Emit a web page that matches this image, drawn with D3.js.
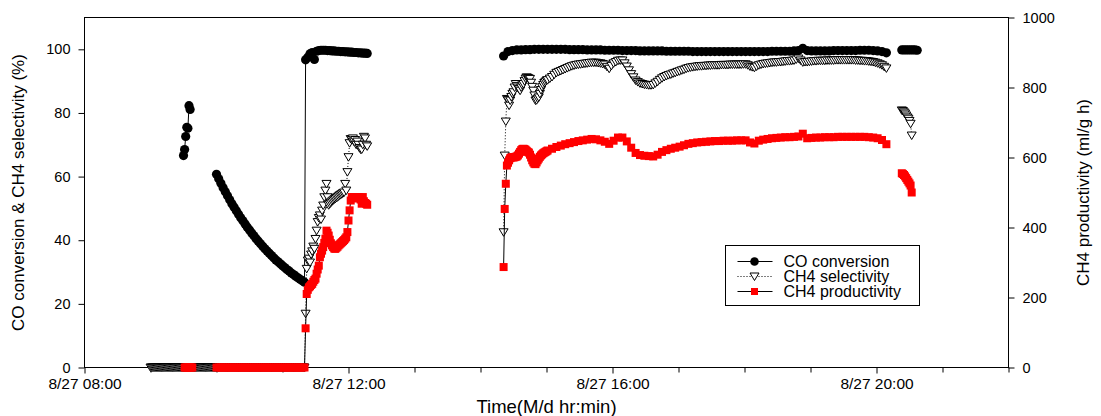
<!DOCTYPE html>
<html><head><meta charset="utf-8">
<script src="https://cdn.jsdelivr.net/npm/d3@7"></script>
<style>
body{margin:0;background:#fff;}
text{font-family:"Liberation Sans", Arial, sans-serif;fill:#000;}
</style></head><body>
<svg id="chart" width="1101" height="416"></svg>
<script>
// ---------- DATA ----------
// each series: list of connected runs; each run: list of blocks [start "HH:MM", step (min), values]
const xTickLabels = ["8/27 08:00", "8/27 12:00", "8/27 16:00", "8/27 20:00"];
const xMajorHours = [8, 12, 16, 20];
const xMinorHours = [9, 10, 11, 13, 14, 15, 17, 18, 19, 21, 22];
const yLeftTicks = [0, 20, 40, 60, 80, 100];
const yRightTicks = [0, 200, 400, 600, 800, 1000];

const coConversion = [
  [["09:30", 1, [66.6, 68.5, 72.6, 75.5, 75.2, 82.3, 81.1]]],
  [["10:00", 2, [60.7, 59.3, 57.9, 56.5, 55.2, 54.0, 52.7, 51.5, 50.4, 49.3, 48.2, 47.1, 46.1, 45.1, 44.1, 43.2, 42.3, 41.4, 40.5, 39.7,
                 38.9, 38.1, 37.3, 36.6, 35.9, 35.2, 34.5, 33.8, 33.2, 32.6, 32.0, 31.4, 30.8, 30.3, 29.7, 29.2, 28.7, 28.2, 27.7, 27.3, 26.8]],
   ["11:21", 2, [96.7, 97.5, 98.6, 99.0, 96.8, 99.4, 99.6, 99.7, 99.7, 99.7, 99.6, 99.6, 99.5, 99.5, 99.4, 99.4, 99.3, 99.3, 99.2, 99.2,
                 99.1, 99.1, 99.0, 99.0, 98.9, 98.9, 98.8, 98.8, 98.7]]],
  [["14:21", 4, [97.9, 99.3, 99.6,
                 99.8, 99.8, 99.9, 99.9, 100, 100, 100, 100, 100, 100, 100, 100, 99.9, 99.9, 99.9, 99.9, 99.8, 99.8,
                 99.8, 99.8, 99.7, 99.7, 99.7, 99.7, 99.6, 99.6, 99.6, 99.6, 99.5, 99.5, 99.5, 99.5, 99.5, 99.5, 99.4, 99.4, 99.4, 99.4,
                 99.4, 99.4, 99.3, 99.3, 99.3, 99.3, 99.3, 99.3, 99.3, 99.3, 99.3, 99.3, 99.3, 99.3, 99.3, 99.3, 99.3, 99.3, 99.3, 99.3,
                 99.4, 99.4, 99.4, 99.4, 99.4, 99.5, 99.6,
                 100.3, 99.6,
                 99.5, 99.5, 99.5, 99.5, 99.5, 99.6, 99.6, 99.6, 99.6, 99.6, 99.6, 99.7, 99.7, 99.7, 99.6,
                 99.5, 99.3, 98.9]]],
  [["20:23", 2, [99.8, 99.8, 99.8, 99.8, 99.8, 99.8, 99.8, 99.7]]]
];

const ch4Selectivity = [
  [["09:00", 1, [0, 0, 0, 0, 0, 0, 0, 0, 0, 0, 0, 0, 0, 0, 0, 0, 0, 0, 0, 0, 0, 0, 0, 0, 0, 0, 0, 0, 0, 0,
                 0, 0, 0, 0, 0, 0, 0, 0, 0, 0, 0, 0, 0, 0, 0, 0, 0, 0, 0, 0, 0, 0, 0, 0, 0, 0, 0, 0, 0, 0,
                 0, 0, 0, 0, 0, 0, 0, 0, 0, 0, 0, 0, 0, 0, 0, 0, 0, 0, 0, 0, 0, 0, 0, 0, 0, 0, 0, 0, 0, 0,
                 0, 0, 0, 0, 0, 0, 0, 0, 0, 0, 0, 0, 0, 0, 0, 0, 0, 0, 0, 0, 0, 0, 0, 0, 0, 0, 0, 0, 0, 0,
                 0, 0, 0, 0, 0, 0, 0, 0, 0, 0, 0, 0, 0, 0, 0, 0, 0, 0, 0, 0, 0]],
   ["11:21", 1, [16.9, 31.0, 33.6, 34.2, 33.0, 35.5, 36.5, 38.0, 37.3, 40.4,
                 43.0, 45.7, 47.0, 47.8, 46.5, 49.3, 50.9, 53.5, 55.6, 57.7,
                 53.5, 51.0, 51.4, 51.8, 52.2, 52.5, 52.8, 53.0, 53.3, 53.5,
                 53.8, 54.1, 54.3, 54.5, 54.8, 55.0, 57.7, 55.6, 61.4, 66.1,
                 70.5, 71.8, 71.5, 72.0, 71.0, 71.5, 70.0, 71.0, 70.0, 69.0,
                 68.5, 68.5, 70.0, 72.5, 72.0, 70.0, 69.5]]],
  [["14:21", 1, [42.5, 66.6, 77.3, 84.4, 84.1, 82.3, 83.9, 85.0, 86.0, 86.5, 88.0, 89.1, 88.5, 88.0, 87.5, 87.0, 88.0, 88.7, 89.1, 90.0,
                 90.8, 91.2, 91.0, 90.8, 90.7, 89.5, 88.2, 87.0, 85.5, 83.9, 84.0, 84.5, 84.9, 86.0, 87.2, 88.1, 88.8, 89.4, 89.8, 90.2]],
   ["15:01", 2, [90.3, 90.8, 91.3, 92.0, 92.6, 92.9, 93.2, 93.5, 93.8, 94.1, 94.4, 94.7, 94.9, 95.1, 95.2, 95.3, 95.4, 95.5, 95.6, 95.7,
                 95.8, 95.8, 95.8, 95.7, 95.6, 95.4, 95.2, 94.5, 93.9, 94.8, 95.6, 96.0, 96.4, 96.5, 96.5, 95.6, 94.6, 93.4, 92.2, 91.2,
                 90.2, 89.7, 89.3, 89.1, 88.9, 88.8, 88.7, 88.7, 88.8, 89.3, 89.8, 90.4, 90.9, 91.3, 91.6, 91.9, 92.1, 92.4, 92.6, 92.9,
                 93.1, 93.4, 93.6, 93.9, 94.1, 94.3, 94.4, 94.5, 94.6, 94.7, 94.7, 94.8, 94.8, 94.9, 94.9, 95.0, 95.0, 95.0, 95.0, 95.1,
                 95.1, 95.1, 95.1, 95.2, 95.2, 95.2, 95.2, 95.2, 95.2, 95.3, 95.3, 95.0, 94.6, 94.4, 94.2, 94.6, 95.0, 95.2, 95.4, 95.5,
                 95.6, 95.7, 95.8, 95.9, 95.9, 96.0, 96.0, 96.1, 96.2, 96.3, 96.3, 96.4, 96.5, 96.8, 97.1, 96.5, 95.9, 96.0, 96.0, 96.1,
                 96.2, 96.3, 96.3, 96.4, 96.4, 96.4, 96.4, 96.5, 96.5, 96.5, 96.5, 96.6, 96.6, 96.6, 96.6, 96.6, 96.6, 96.6, 96.6, 96.6,
                 96.5, 96.5, 96.4, 96.4, 96.3, 96.3, 96.2, 96.1, 96.0, 95.8, 95.6, 95.3, 95.0, 94.5, 94.0]]],
  [["20:23", 1, [80.8, 80.6, 80.2, 79.8, 79.2, 78.6, 78.2, 77.5, 76.6, 72.9]]]
];

const ch4Productivity = [
  [["09:31", 1, [0, 0, 0, 0, 0, 0, 0, 0]]],
  [["10:00", 2, [0, 0, 0, 0, 0, 0, 0, 0, 0, 0, 0, 0, 0, 0, 0, 0, 0, 0, 0, 0, 0, 0, 0, 0, 0, 0, 0, 0, 0, 0, 0, 0, 0, 0, 0, 0, 0, 0, 0, 0, 0]],
   ["11:21", 1, [112, 210, 222, 229, 232, 236, 239, 245, 250, 254,
                 268, 280, 291, 315, 325, 334, 344, 356, 368, 391,
                 385, 377, 365, 355, 349, 344, 340, 339, 342, 345,
                 349, 352, 355, 358, 361, 364, 368, 372, 387, 420,
                 449, 477, 487, 485, 487, 483, 487, 484, 487, 486,
                 480, 468, 487, 475, 470, 468, 465]]],
  [["14:21", 1, [287, 453, 525, 577, 585, 592, 598, 600, 601, 600, 601, 602, 603, 606, 611, 616, 621, 624, 625, 624,
                 622, 619, 616, 614, 608, 600, 592, 586, 582, 581, 586, 592, 597, 602, 606, 609, 612, 614, 616, 618]],
   ["15:01", 4, [620, 625, 630, 634, 638, 641, 644, 647, 649, 651, 653, 652, 649, 645, 639, 648, 657, 657, 646, 628,
                 613, 607, 605, 604, 603, 608, 616, 621, 625, 628, 631, 635, 639, 641, 643, 644, 645, 646, 647, 647,
                 648, 648, 648, 649, 649, 649, 643, 640, 648, 651, 653, 655, 656, 657, 658, 658, 659, 660, 668, 655,
                 656, 657, 657, 658, 658, 658, 659, 659, 659, 659, 659, 659, 659, 658, 657, 655, 650, 638]]],
  [["20:23", 1, [555, 553, 550, 546, 541, 536, 531, 526, 520, 500]]]
];

const legendLabels = ["CO conversion", "CH4 selectivity", "CH4 productivity"];
const xTitle = "Time(M/d hr:min)";
const yLeftTitle = "CO conversion & CH4 selectivity (%)";
const yRightTitle = "CH4 productivity (ml/g h)";

// ---------- DRAWING ----------
const svg = d3.select("#chart");
const P = {left: 84.5, right: 1008.5, top: 17.5, bottom: 367.5};
const day = (h, m) => new Date(2000, 7, 27, h, m);
const parseT = s => { const [h, m] = s.split(":").map(Number); return day(h, m); };
const x = d3.scaleTime().domain([day(8, 0), day(22, 0)]).range([P.left, P.right]);
const yL = d3.scaleLinear().domain([0, 110]).range([P.bottom, P.top]);
const yR = d3.scaleLinear().domain([0, 1000]).range([P.bottom, P.top]);

function expand(series) {
  return series.map(run => run.flatMap(([start, step, vals]) => {
    const t0 = parseT(start).getTime();
    return vals.map((v, i) => ({t: new Date(t0 + i * step * 60000), v}));
  }));
}

svg.append("rect").attr("x", P.left).attr("y", P.top)
  .attr("width", P.right - P.left).attr("height", P.bottom - P.top)
  .attr("fill", "none").attr("stroke", "#000").attr("stroke-width", 1);

function styleAxis(size) {
  return g => {
    g.select(".domain").remove();
    g.selectAll(".tick line").attr("stroke", "#000");
    g.selectAll("text").attr("font-size", size).attr("font-family", "Liberation Sans, Arial, sans-serif");
  };
}

svg.append("g").attr("transform", `translate(${P.left},0)`)
  .call(d3.axisLeft(yL).tickValues(yLeftTicks).tickFormat(d3.format("d")).tickSize(6).tickPadding(8)).call(styleAxis(14.5));
svg.append("g").attr("transform", `translate(${P.right},0)`)
  .call(d3.axisRight(yR).tickValues(yRightTicks).tickFormat(d3.format("d")).tickSize(6).tickPadding(8)).call(styleAxis(14.5));
svg.append("g").attr("transform", `translate(0,${P.bottom})`)
  .call(d3.axisBottom(x).tickValues(xMajorHours.map(h => day(h, 0)))
    .tickFormat((d, i) => xTickLabels[i]).tickSize(6).tickPadding(4)).call(styleAxis(15.5));
svg.append("g").attr("transform", `translate(0,${P.bottom})`)
  .call(d3.axisBottom(x).tickValues(xMinorHours.map(h => day(h, 0)))
    .tickFormat("").tickSize(5)).call(styleAxis(15.5));

// titles
svg.append("text").attr("x", (P.left + P.right) / 2).attr("y", 413)
  .attr("text-anchor", "middle").attr("font-size", 18.5).text(xTitle);
svg.append("text").attr("transform", `translate(24,${(P.top + P.bottom) / 2}) rotate(-90)`)
  .attr("text-anchor", "middle").attr("font-size", 17).text(yLeftTitle);
svg.append("text").attr("transform", `translate(1089,${(P.top + P.bottom) / 2}) rotate(-90)`)
  .attr("text-anchor", "middle").attr("font-size", 17).text(yRightTitle);

const plotG = svg.append("g");
const triPath = "M-4.5,-3.5L4.5,-3.5L0,4Z";

const lineL = d3.line().x(d => x(d.t)).y(d => yL(d.v));
const lineR = d3.line().x(d => x(d.t)).y(d => yR(d.v));

// CO conversion
expand(coConversion).forEach(run => {
  plotG.append("path").attr("d", lineL(run)).attr("fill", "none").attr("stroke", "#000").attr("stroke-width", 1);
  plotG.append("g").selectAll("circle").data(run).join("circle")
    .attr("cx", d => x(d.t)).attr("cy", d => yL(d.v)).attr("r", 4.6).attr("fill", "#000");
});
// CH4 selectivity
expand(ch4Selectivity).forEach(run => {
  plotG.append("path").attr("d", lineL(run)).attr("fill", "none").attr("stroke", "#000")
    .attr("stroke-width", 1).attr("stroke-dasharray", "1,2");
  plotG.append("g").selectAll("path").data(run).join("path")
    .attr("d", triPath).attr("transform", d => `translate(${x(d.t)},${yL(d.v)})`)
    .attr("fill", "#fff").attr("stroke", "#000").attr("stroke-width", 1);
});
// CH4 productivity
expand(ch4Productivity).forEach(run => {
  plotG.append("path").attr("d", lineR(run)).attr("fill", "none").attr("stroke", "#000").attr("stroke-width", 1);
  plotG.append("g").selectAll("rect").data(run).join("rect")
    .attr("x", d => x(d.t) - 4).attr("y", d => yR(d.v) - 4).attr("width", 8).attr("height", 8).attr("fill", "#ff0000");
});

// legend
const lg = svg.append("g").attr("transform", "translate(725.5,245.5)");
lg.append("rect").attr("width", 194).attr("height", 60).attr("fill", "#fff").attr("stroke", "#000");
const rows = [16, 31, 46];
legendLabels.forEach((lab, i) => {
  const yy = rows[i];
  const ln = lg.append("line").attr("x1", 12).attr("x2", 47).attr("y1", yy).attr("y2", yy).attr("stroke", "#000");
  if (i === 1) ln.attr("stroke-dasharray", "1,2");
  if (i === 0) lg.append("circle").attr("cx", 29).attr("cy", yy).attr("r", 4.3).attr("fill", "#000");
  if (i === 1) lg.append("path").attr("d", triPath).attr("transform", `translate(29,${yy})`).attr("fill", "#fff").attr("stroke", "#000");
  if (i === 2) lg.append("rect").attr("x", 25.5).attr("y", yy - 3.5).attr("width", 7).attr("height", 7).attr("fill", "#ff0000");
  lg.append("text").attr("x", 58).attr("y", yy + 5.5).attr("font-size", 16).text(lab);
});
</script>
</body></html>
